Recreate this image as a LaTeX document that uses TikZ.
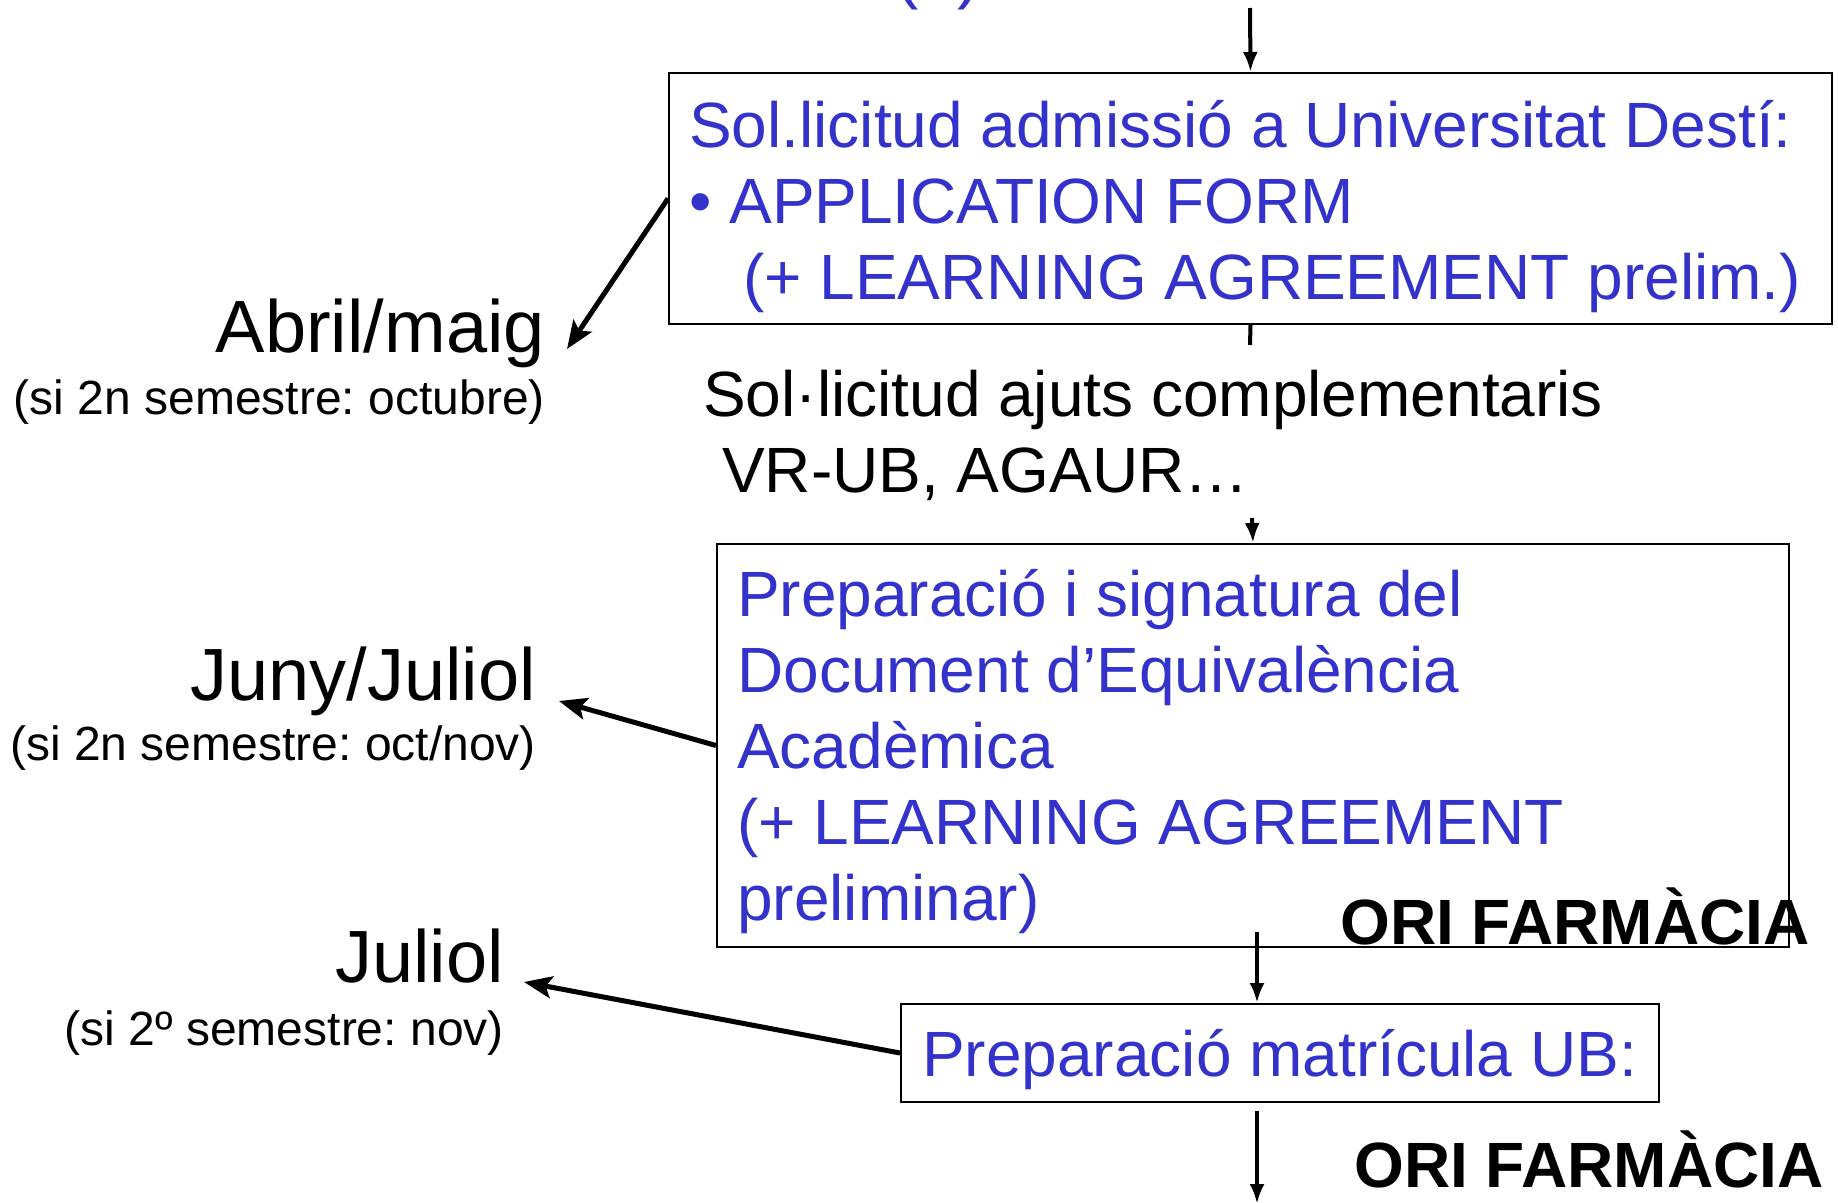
\documentclass[tikz,border=0pt]{standalone}
\usepackage{fontspec}
\setmainfont{Liberation Sans}
\usetikzlibrary{arrows.meta}
\definecolor{ubblue}{RGB}{51,51,204}
\frenchspacing
\begin{document}
\begin{tikzpicture}[x=1pt,y=-1pt,
  boxed/.style={draw=black, line width=2pt, inner sep=0pt, anchor=north west},
  bluetxt/.style={inner sep=0pt, anchor=base west, text=ubblue, font=\fontsize{64}{76}\selectfont},
  blacktxt/.style={inner sep=0pt, anchor=base west, text=black, font=\fontsize{64}{76}\selectfont},
  oritxt/.style={inner sep=0pt, anchor=base west, text=black, font=\fontsize{64}{76}\selectfont\bfseries},
  month/.style={inner sep=0pt, anchor=base east, font=\fontsize{74}{86}\selectfont},
  monthnote/.style={inner sep=0pt, anchor=base east, font=\fontsize{48}{58}\selectfont},
  flow/.style={line width=4pt, -{Latex[length=20pt,width=15pt]}},
  sidearrow/.style={line width=5pt, -{Stealth[length=28pt,width=22pt,inset=6pt]}}]
\clip (0,0) rectangle (1838,1202);
\fill[white] (0,0) rectangle (1838,1202);

% partially visible heading at the top
\node[inner sep=0pt, anchor=base west, text=ubblue, font=\fontsize{70}{80}\selectfont] (head) at (895,-5) {(\phantom{2})};

% boxes
\node[boxed, minimum width=1163pt, minimum height=251pt] (b1) at (668,72) {};
\node[boxed, minimum width=1072pt, minimum height=403pt] (b2) at (716,543) {};
\node[boxed, minimum width=758pt, minimum height=98pt] (b3) at (900,1003) {};

% box 1 text
\node[bluetxt] (t11) at (689,147) {Sol.licitud admissió a Universitat Destí:};
\node[bluetxt] (t12) at (689,223) {• APPLICATION FORM};
\node[bluetxt] (t13) at (743,299) {(+ LEARNING AGREEMENT prelim.)};

% middle black text
\node[blacktxt] (s1) at (703,416) {Sol·licitud ajuts complementaris};
\node[blacktxt] (s2) at (722,492) {VR-UB, AGAUR…};

% box 2 text
\node[bluetxt] (t21) at (737,616) {Preparació i signatura del};
\node[bluetxt] (t22) at (737,692) {Document d’Equivalència};
\node[bluetxt] (t23) at (737,768) {Acadèmica};
\node[bluetxt] (t24) at (737,844) {(+ LEARNING AGREEMENT};
\node[bluetxt] (t25) at (737,920) {preliminar)};
\node[oritxt] (ori1) at (1340,944) {ORI FARMÀCIA};

% box 3 text
\node[bluetxt] (t31) at (922,1076) {Preparació matrícula UB:};
\node[oritxt] (ori2) at (1354,1187) {ORI FARMÀCIA};

% left labels
\node[month] (m1) at (545,352) {Abril/maig};
\node[monthnote] (n1) at (545,414) {(si 2n semestre: octubre)};
\node[month] (m2) at (536,700) {Juny/Juliol};
\node[monthnote] (n2) at (536,760) {(si 2n semestre: oct/nov)};
\node[month] (m3) at (504,982) {Juliol};
\node[monthnote] (n3) at (504,1045) {(si 2º semestre: nov)};

% coordinates for free ends
\coordinate (top) at (1250,8);
\coordinate (stubend) at (1250,345);
\coordinate (s2start) at (1252,518);
\coordinate (c23a) at (1257,932);
\coordinate (c3a) at (1257,1111);
\coordinate (c3b) at (1257,1204);
\coordinate (a1) at (567,349);
\coordinate (a2) at (559,701);
\coordinate (a3) at (524,982);

% vertical flow
\draw[flow] (top) -- (b1.north);
\draw[line width=4pt] (b1.south) -- (stubend);
\draw[flow] (s2start) -- (b2.north);
\draw[flow] (c23a) -- (c23a |- b3.north);
\draw[flow] (c3a) -- (c3b);

% side arrows
\draw[sidearrow] (b1.west) -- (a1);
\draw[sidearrow] (b2.west) -- (a2);
\draw[sidearrow] (b3.west) -- (a3);
\end{tikzpicture}
\end{document}
